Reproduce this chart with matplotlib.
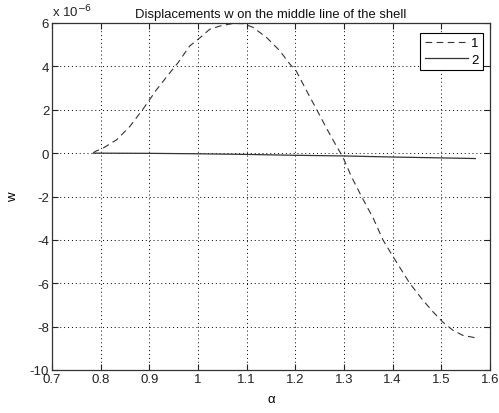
import matplotlib
matplotlib.use("Agg")
import matplotlib.pyplot as plt

plt.rcParams['font.family'] = ['Liberation Sans', 'DejaVu Sans']

# data (w in units of 1e-6)
alpha1 = [0.785, 0.788, 0.805, 0.833, 0.860, 0.887, 0.915, 0.942, 0.959, 0.983,
          1.004, 1.024, 1.045, 1.072, 1.093, 1.113, 1.141, 1.168, 1.189, 1.202,
          1.223, 1.244, 1.264, 1.285, 1.297, 1.315, 1.336, 1.360, 1.380, 1.401,
          1.418, 1.435, 1.462, 1.483, 1.503, 1.524, 1.544, 1.569]
w1 = [0.0, 0.07, 0.23, 0.62, 1.23, 2.03, 2.93, 3.70, 4.17, 4.94,
      5.32, 5.71, 5.86, 5.98, 5.97, 5.80, 5.33, 4.72, 4.10, 3.78,
      2.88, 2.0, 1.15, 0.3, -0.15, -1.07, -2.0, -3.0, -4.0, -4.78,
      -5.39, -6.0, -6.78, -7.32, -7.79, -8.17, -8.40, -8.51]
alpha2 = [0.785, 0.9, 1.0, 1.1, 1.2, 1.3, 1.4, 1.5, 1.570]
w2 = [0.0, -0.01, -0.03, -0.06, -0.1, -0.13, -0.18, -0.22, -0.25]

title = "Displacements w on the middle line of the shell"
xticks = [0.7, 0.8, 0.9, 1.0, 1.1, 1.2, 1.3, 1.4, 1.5, 1.6]
xticklabels = ["0.7", "0.8", "0.9", "1", "1.1", "1.2", "1.3", "1.4", "1.5", "1.6"]
yticks = [-10, -8, -6, -4, -2, 0, 2, 4, 6]
labels = ["1", "2"]

fig = plt.figure(figsize=(4.99, 4.14), dpi=100)
ax = fig.add_axes([52/499, 1-371/414, (490-52)/499, (371-24)/414])

ax.plot(alpha1, w1, color='#333333', lw=0.8, dashes=(6, 4), label=labels[0])
ax.plot(alpha2, w2, color='#333333', lw=0.9, label=labels[1])

ax.set_xlim(0.7, 1.6)
ax.set_ylim(-10, 6)
ax.set_xticks(xticks)
ax.set_xticklabels(xticklabels)
ax.set_yticks(yticks)
ax.set_yticklabels([str(t) for t in yticks])
ax.tick_params(direction='in', top=True, right=True, length=4, width=0.8,
               labelsize=9.5, colors='#222222', pad=2)
ax.grid(True, color='black', linestyle=(0, (1, 3)), linewidth=0.7)
for s in ax.spines.values():
    s.set_color('#333333')
    s.set_linewidth(0.9)

ax.set_title(title, fontsize=9.4, pad=4, color='#111111')
ax.set_xlabel("α", fontsize=9.5, labelpad=6)
ax.set_ylabel("w", fontsize=9.5, labelpad=8)
ax.text(0.0, 1.012, "x 10$^{-6}$", transform=ax.transAxes, fontsize=9.5,
        ha='left', va='bottom', color='#222222')

leg = ax.legend(loc='upper right', bbox_to_anchor=(0.99, 0.98), fancybox=False,
                edgecolor='black', framealpha=1, fontsize=9.5, markerfirst=True,
                handlelength=3.3, handletextpad=0.2, borderpad=0.35,
                labelspacing=0.3, borderaxespad=0.2)
leg.get_frame().set_linewidth(0.8)

fig.savefig("out.png", dpi=100)
